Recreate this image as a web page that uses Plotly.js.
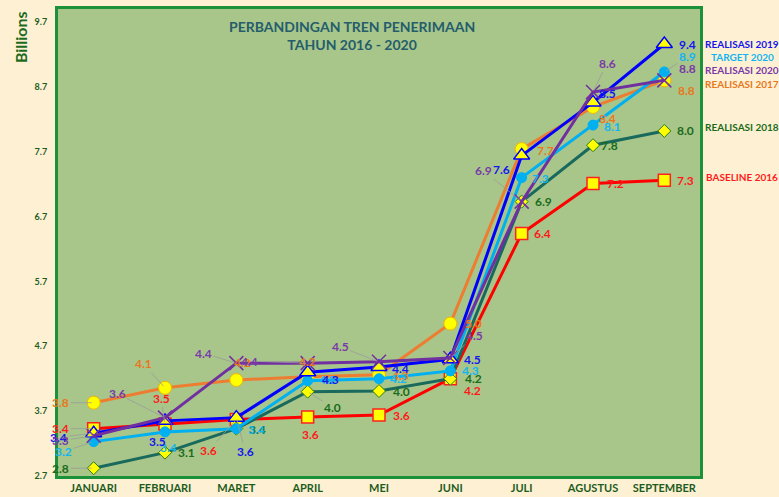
<!DOCTYPE html>
<html>
<head>
<meta charset="utf-8">
<script src="https://cdn.plot.ly/plotly-3.0.1.min.js"></script>
<style>
  html, body { margin: 0; padding: 0; background: #fef1d3; }
  #chart { width: 779px; height: 497px; }
</style>
</head>
<body>
<div id="chart"></div>
<script>
// ---- Data (values in billions) ----
const months = ["JANUARI", "FEBRUARI", "MARET", "APRIL", "MEI", "JUNI", "JULI", "AGUSTUS", "SEPTEMBER"];
const baseline2016   = [3.43, 3.5, 3.57, 3.61, 3.64, 4.2, 6.44, 7.21, 7.26];
const realisasi2017  = [3.83, 4.06, 4.18, 4.23, 4.26, 5.05, 7.74, 8.39, 8.8];
const realisasi2018  = [2.82, 3.06, 3.43, 4.0, 4.01, 4.2, 6.93, 7.8, 8.02];
const realisasi2019  = [3.36, 3.55, 3.6, 4.3, 4.38, 4.5, 7.64, 8.46, 9.36];
const target2020     = [3.23, 3.38, 3.43, 4.17, 4.2, 4.32, 7.3, 8.11, 8.93];
const realisasi2020  = [3.32, 3.6, 4.44, 4.44, 4.46, 4.52, 6.93, 8.62, 8.8];
const yTicks = [2.7, 3.7, 4.7, 5.7, 6.7, 7.7, 8.7, 9.7];

// ---- Styles ----
const series = [
  { name: "BASELINE 2016", y: baseline2016, line: "#ff0000", label: "#ff1a1a",
    marker: { symbol: "square", size: 12, color: "#ffff00", line: { color: "#ff2020", width: 1.5 } },
    offs: [[-33,0],[-4,-26],[-28,31],[3,18],[22,0],[22,12],[21,0],[22,0],[21,0]], legendShift: 3 },
  { name: "REALISASI 2017", y: realisasi2017, line: "#ed7d31", label: "#e8771e",
    marker: { symbol: "circle", size: 13, color: "#ffff00", line: { color: "#f2b600", width: 1 } },
    offs: [[-33,0],[-22,-24],[6,-18],[0,-15],[21,1],[23,0],[24,1],[14,12],[22,10]], legendShift: -4 },
  { name: "REALISASI 2018", y: realisasi2018, line: "#19695d", label: "#1a6b1a",
    marker: { symbol: "diamond", size: 10, color: "#ffff00", line: { color: "#2a7a1a", width: 1 } },
    offs: [[-33,0],[21,0],[21,1],[25,16],[22,0],[23,0],[22,0],[16,0],[21,0]], legendShift: 4 },
  { name: "TARGET 2020", y: target2020, line: "#00b0f0", label: "#14b4f0",
    marker: { symbol: "circle", size: 10, color: "#00b0f0", line: { color: "#00b0f0", width: 1 } },
    offs: [[-30,10],[3,16],[20,1],[20,-1],[19,0],[20,0],[19,1],[19,1],[23,-15]], legendShift: 15 },
  { name: "REALISASI 2019", y: realisasi2019, line: "#0000ff", label: "#1515ee",
    marker: { symbol: "triangle-up", size: 14, color: "#ffff00", line: { color: "#0000ff", width: 1.5 } },
    offs: [[-35,4],[-8,21],[9,34],[23,7],[21,1],[22,0],[-20,14],[14,-9],[23,0]], legendShift: 0 },
  { name: "REALISASI 2020", y: realisasi2020, line: "#7030a0", label: "#7a3aa8",
    marker: { symbol: "x-thin", size: 14, color: "#7030a0", line: { color: "#7030a0", width: 1.5 } },
    offs: [[-33,5],[-48,-24],[-33,-10],[-58,-2],[-39,-15],[24,-22],[-38,-31],[14,-29],[23,-12]], legendShift: 10 }
];

const FONT = "Lato, 'Open Sans', Arial, sans-serif";

const traces = series.map(s => ({
  type: "scatter",
  mode: "lines+markers",
  name: s.name,
  x: months,
  y: s.y,
  line: { color: s.line, width: 3 },
  marker: s.marker,
  showlegend: false,
  cliponaxis: false,
  hoverinfo: "x+y+name"
}));

const annotations = [];
// Data labels
series.forEach(s => {
  s.y.forEach((v, i) => {
    const [dx, dy] = s.offs[i];
    const dist = Math.sqrt(dx * dx + dy * dy);
    const base = {
      x: months[i], y: v, xref: "x", yref: "y",
      text: v.toFixed(1),
      font: { family: FONT, size: 12, color: s.label, weight: "bold" }
    };
    if (dist > 26) {
      annotations.push(Object.assign(base, {
        showarrow: true, ax: dx, ay: dy, arrowhead: 0, arrowwidth: 0.8,
        arrowcolor: "#9a9a9a", standoff: 2
      }));
    } else {
      annotations.push(Object.assign(base, {
        showarrow: false, xshift: dx, yshift: -dy
      }));
    }
  });
});
// Series name labels at the right of the plot
series.forEach(s => {
  annotations.push({
    x: months[months.length - 1], y: s.y[s.y.length - 1], xref: "x", yref: "y",
    text: s.name, showarrow: false, xanchor: "center",
    xshift: 78, yshift: s.legendShift,
    font: { family: FONT, size: 10, color: s.label, weight: "bold" }
  });
});
// Title
annotations.push({
  xref: "paper", yref: "paper", x: 0.458, y: 0.985, xanchor: "center", yanchor: "top",
  showarrow: false, align: "center",
  text: "PERBANDINGAN TREN PENERIMAAN<br>TAHUN 2016 - 2020",
  font: { family: FONT, size: 14, color: "#255d6c", weight: "bold" }
});
// Units label
annotations.push({
  xref: "paper", yref: "paper", x: -0.059, y: 1.0, xanchor: "center", yanchor: "top",
  showarrow: false, textangle: -90, text: "Billions",
  font: { family: FONT, size: 16, color: "#1d6a1d", weight: "bold" }
});

const layout = {
  width: 779, height: 497,
  margin: { l: 58, r: 79, t: 9, b: 21 },
  paper_bgcolor: "#fef1d3",
  plot_bgcolor: "#a8c68a",
  font: { family: FONT },
  showlegend: false,
  xaxis: {
    type: "category",
    range: [-0.5, 8.5],
    showgrid: false, zeroline: false,
    showline: true, mirror: true, linecolor: "#1b9139", linewidth: 3,
    ticks: "",
    tickfont: { family: FONT, size: 11, color: "#1d5c1d", weight: "bold" },
    fixedrange: true
  },
  yaxis: {
    range: [2.7, 9.9],
    tickvals: yTicks,
    ticktext: yTicks.map(v => v.toFixed(1)),
    showgrid: false, zeroline: false,
    showline: true, mirror: true, linecolor: "#1b9139", linewidth: 3,
    ticks: "", ticklabelstandoff: 6,
    tickfont: { family: FONT, size: 9, color: "#1d5c1d", weight: "bold" },
    fixedrange: true
  },
  annotations: annotations
};

Plotly.newPlot("chart", traces, layout, { displayModeBar: false, staticPlot: true });
</script>
</body>
</html>
